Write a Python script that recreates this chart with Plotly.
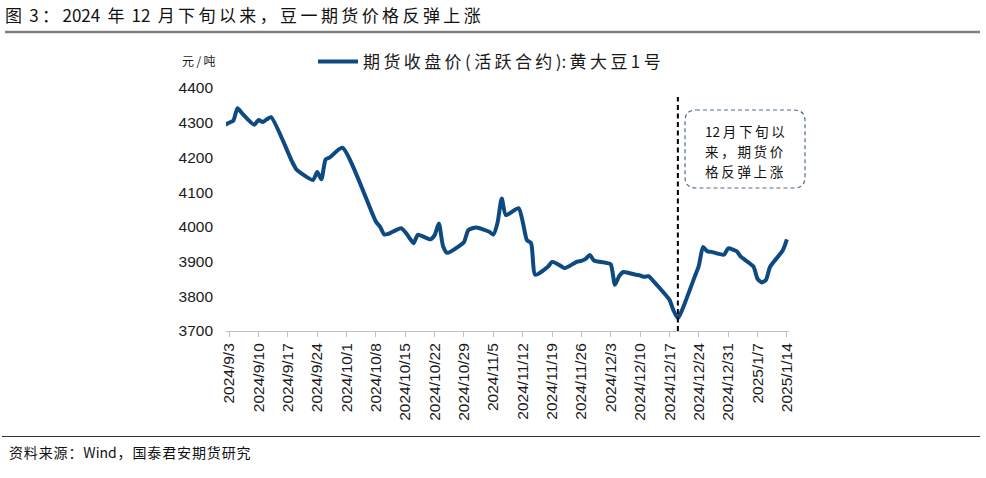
import plotly.graph_objects as go
import pandas as pd

# ---------------- data ----------------
dates = [
    "2024-09-02", "2024-09-03", "2024-09-04", "2024-09-05", "2024-09-06",
    "2024-09-09", "2024-09-10", "2024-09-11", "2024-09-12", "2024-09-13",
    "2024-09-18", "2024-09-19", "2024-09-20",
    "2024-09-23", "2024-09-24", "2024-09-25", "2024-09-26", "2024-09-27",
    "2024-09-30",
    "2024-10-08", "2024-10-09", "2024-10-10", "2024-10-11",
    "2024-10-14", "2024-10-15", "2024-10-16", "2024-10-17", "2024-10-18",
    "2024-10-21", "2024-10-22", "2024-10-23", "2024-10-24", "2024-10-25",
    "2024-10-28", "2024-10-29", "2024-10-30", "2024-10-31", "2024-11-01",
    "2024-11-04", "2024-11-05", "2024-11-06", "2024-11-07", "2024-11-08",
    "2024-11-11", "2024-11-12", "2024-11-13", "2024-11-14", "2024-11-15",
    "2024-11-18", "2024-11-19", "2024-11-20", "2024-11-21", "2024-11-22",
    "2024-11-25", "2024-11-26", "2024-11-27", "2024-11-28", "2024-11-29",
    "2024-12-02", "2024-12-03", "2024-12-04", "2024-12-05", "2024-12-06",
    "2024-12-09", "2024-12-10", "2024-12-11", "2024-12-12", "2024-12-13",
    "2024-12-16", "2024-12-17", "2024-12-18", "2024-12-19", "2024-12-20",
    "2024-12-23", "2024-12-24", "2024-12-25", "2024-12-26", "2024-12-27",
    "2024-12-30", "2024-12-31",
    "2025-01-02", "2025-01-03",
    "2025-01-06", "2025-01-07", "2025-01-08", "2025-01-09", "2025-01-10",
    "2025-01-13", "2025-01-14",
]
close_price = [
    4294, 4300, 4306, 4342, 4328,
    4294, 4308, 4302, 4310, 4316,
    4188, 4166, 4156,
    4135, 4158, 4137, 4194, 4200,
    4228,
    4015, 4000, 3978, 3980,
    3996, 3985, 3968, 3953, 3977,
    3964, 3976, 4010, 3945, 3925,
    3946, 3956, 3990, 3996, 3998,
    3986, 3978, 4012, 4082, 4034,
    4054, 4015, 3962, 3953, 3862,
    3885, 3899, 3895, 3888, 3881,
    3900, 3902, 3908, 3919, 3903,
    3896, 3892, 3833, 3858, 3870,
    3862, 3860, 3856, 3858, 3846,
    3805, 3790, 3758, 3737, 3760,
    3856, 3888, 3942, 3930, 3928,
    3920, 3938,
    3930, 3914,
    3886, 3850, 3840, 3847, 3885,
    3932, 3964,
]
tick_labels = [
    "2024/9/3", "2024/9/10", "2024/9/17", "2024/9/24", "2024/10/1",
    "2024/10/8", "2024/10/15", "2024/10/22", "2024/10/29", "2024/11/5",
    "2024/11/12", "2024/11/19", "2024/11/26", "2024/12/3", "2024/12/10",
    "2024/12/17", "2024/12/24", "2024/12/31", "2025/1/7", "2025/1/14",
]
y_ticks = [3700, 3800, 3900, 4000, 4100, 4200, 4300, 4400]
series_name = "期货收盘价(活跃合约):黄大豆1号"
marker_date = "2024-12-19"
title_text = "图 3：2024 年 12 月下旬以来，豆一期货价格反弹上涨"
note_lines = ["12月下旬以", "来，期货价", "格反弹上涨"]
source_text = "资料来源：Wind，国泰君安期货研究"
unit_text = "元/吨"

# ---------------- layout helpers ----------------
# Page body margin is removed (post_script), so figure pixels = screen pixels.
W, H = 986, 478
PW, PH = 563, 243
L, T = 226, 88
R, B = W - L - PW, H - T - PH
CJK = "Noto Sans CJK SC"
LAT = "Liberation Sans, Arial"


def px(x):
    return (x - L) / PW


def py(y):
    return (T + PH - y) / PH


def spaced(s, sep="\u2009", space=" \u2009"):
    out = []
    for i, ch in enumerate(s):
        if ch == " ":
            out.append(space)
            continue
        out.append(ch)
        if i < len(s) - 1:
            nxt = s[i + 1]
            if (ord(ch) > 0x2E80 or ord(nxt) > 0x2E80) and nxt != " ":
                out.append(sep)
    return "".join(out)


tick_vals = [pd.to_datetime(t, format="%Y/%m/%d") for t in tick_labels]
x_vals = pd.to_datetime(dates)

fig = go.Figure()
fig.add_trace(go.Scatter(
    x=x_vals, y=close_price, mode="lines", name=spaced(series_name),
    line=dict(color="#0D4A82", width=4, shape="spline", smoothing=0.6),
))

fig.update_layout(
    width=W, height=H,
    margin=dict(l=L, r=R, t=T, b=B, pad=0),
    paper_bgcolor="white", plot_bgcolor="white",
    showlegend=True,
    legend=dict(
        x=px(313), y=py(62), xanchor="left", yanchor="middle",
        orientation="h", bgcolor="rgba(0,0,0,0)",
        font=dict(family=CJK, size=17, color="#1a1a1a"),
        itemwidth=40,
    ),
    title=dict(
        text=spaced(title_text), xref="container", yref="container",
        x=5 / W, y=1 - 16 / H, xanchor="left", yanchor="middle",
        font=dict(family=CJK, size=17, color="#111111"),
    ),
    xaxis=dict(
        type="date",
        range=["2024-09-02 06:00", "2025-01-14 12:00"],
        tickvals=tick_vals, ticktext=tick_labels, tickangle=-90,
        tickfont=dict(family=LAT, size=15.5, color="#1a1a1a"),
        showline=True, linecolor="#BFBFBF", linewidth=1,
        ticks="outside", ticklen=5, tickcolor="#BFBFBF", tickwidth=1,
        showgrid=False, zeroline=False,
    ),
    yaxis=dict(
        range=[3700, 4400], tickvals=y_ticks,
        tickfont=dict(family=LAT, size=15.5, color="#1a1a1a"),
        showline=False, showgrid=False, zeroline=False, ticks="",
        ticklabelstandoff=12,
    ),
)

# dashed marker line
fig.add_shape(type="line", xref="x", yref="y", x0=marker_date, x1=marker_date,
              y0=3700, y1=4374, line=dict(color="black", width=2, dash="5px,3.5px"))

# rounded dashed note box
x0, x1, yt, yb = px(685), px(805), py(110), py(188)
rx, ry = 11 / PW, 11 / PH
path = (f"M {x0+rx},{yt} L {x1-rx},{yt} Q {x1},{yt} {x1},{yt-ry} "
        f"L {x1},{yb+ry} Q {x1},{yb} {x1-rx},{yb} L {x0+rx},{yb} "
        f"Q {x0},{yb} {x0},{yb+ry} L {x0},{yt-ry} Q {x0},{yt} {x0+rx},{yt} Z")
fig.add_shape(type="path", xref="paper", yref="paper", path=path,
              line=dict(color="#4F6D8C", width=1.2, dash="4px,3px"))
for i, line in enumerate(note_lines):
    fig.add_annotation(xref="paper", yref="paper", x=px(703), y=py(131 + 20 * i),
                       xanchor="left", yanchor="middle", showarrow=False,
                       text=spaced(line), font=dict(family=CJK, size=13.5, color="#111111"))

# unit label
fig.add_annotation(xref="paper", yref="paper", x=px(199), y=py(61), xanchor="center",
                   yanchor="middle", showarrow=False, text=spaced(unit_text),
                   font=dict(family=CJK, size=12, color="#1a1a1a"))

# title rule and footer rule
fig.add_shape(type="line", xref="paper", yref="paper", x0=px(5), x1=px(980),
              y0=py(32), y1=py(32), line=dict(color="#7F7F7F", width=2.5))
fig.add_shape(type="line", xref="paper", yref="paper", x0=px(2), x1=px(980),
              y0=py(436.5), y1=py(436.5), line=dict(color="#333333", width=1.2))

# source
fig.add_annotation(xref="paper", yref="paper", x=px(7), y=py(452), xanchor="left",
                   yanchor="middle", showarrow=False, text=spaced(source_text, "\u200a"),
                   font=dict(family=CJK, size=14, color="#111111"))

fig.write_html("out.html", config={"displayModeBar": False},
               post_script="document.body.style.margin='0px';")
